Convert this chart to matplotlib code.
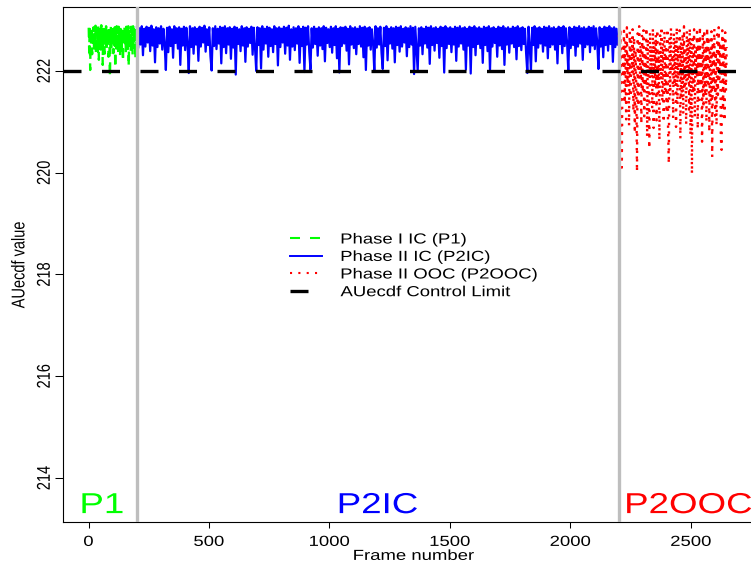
import numpy as np
import matplotlib
matplotlib.use("Agg")
import matplotlib.pyplot as plt
import matplotlib.patheffects as pe
from matplotlib.transforms import Affine2D
from matplotlib.lines import Line2D

# ---------------- data ----------------
p1_x = list(range(1, 201, 2))
p1_y = [222.85, 222.36, 222.88, 222.02, 222.83, 222.48, 222.87, 222.33, 222.79, 222.55,
        222.86, 222.41, 222.81, 222.62, 222.89, 222.31, 222.84, 222.50, 222.77, 222.38,
        222.88, 222.22, 222.82, 222.56, 222.86, 222.42, 222.90, 222.49, 222.80, 222.12,
        222.85, 222.45, 222.87, 222.34, 222.83, 222.58, 222.88, 222.39, 222.78, 222.52,
        222.86, 222.28, 222.84, 222.48, 221.88, 222.65, 222.87, 222.41, 222.82, 222.57,
        222.89, 222.35, 222.81, 222.51, 222.86, 222.05, 222.84, 222.44, 222.88, 222.60,
        222.79, 222.37, 222.87, 222.50, 222.83, 222.30, 222.89, 222.55, 222.80, 222.40,
        222.86, 222.18, 222.84, 222.47, 222.88, 222.61, 222.81, 222.36, 222.87, 222.52,
        222.83, 222.43, 222.88, 222.08, 222.85, 222.49, 222.79, 222.38, 222.87, 222.56,
        222.84, 222.32, 222.88, 222.46, 222.82, 222.59, 222.86, 222.22, 222.80, 222.51]

p2ic_x = list(range(201, 2201, 5))
p2ic_y = [
    222.86, 222.45, 222.84, 222.52, 222.88, 222.31, 222.83, 222.48, 222.87, 222.56, 222.85, 222.39, 222.89, 222.50, 222.82, 222.17, 222.86, 222.47, 222.84, 222.54,
    222.88, 222.42, 222.83, 222.51, 222.02, 222.85, 222.37, 222.87, 222.49, 222.82, 222.26, 222.88, 222.55, 222.84, 222.44, 222.86, 222.12, 222.83, 222.50, 222.87,
    222.41, 222.85, 222.53, 221.96, 222.88, 222.47, 222.84, 222.34, 222.86, 222.52, 222.83, 222.20, 222.87, 222.48, 222.85, 222.56, 222.89, 222.38, 222.82, 222.51,
    222.86, 222.29, 222.01, 222.84, 222.49, 222.88, 222.43, 222.83, 222.54, 222.87, 222.15, 222.85, 222.47, 222.88, 222.35, 222.84, 222.52, 222.86, 222.24, 222.83,
    222.46, 222.87, 221.93, 222.85, 222.53, 222.82, 222.39, 222.88, 222.50, 222.84, 222.18, 222.86, 222.48, 222.83, 222.55, 222.87, 222.32, 222.85, 222.45, 222.00,
    222.86, 222.51, 222.84, 222.05, 222.88, 222.42, 222.83, 222.54, 222.87, 222.28, 222.85, 222.49, 222.82, 222.37, 222.88, 222.53, 222.84, 222.11, 222.86, 222.47,
    222.83, 222.56, 222.87, 222.34, 222.85, 222.50, 222.89, 222.22, 222.82, 222.48, 222.86, 222.41, 222.84, 222.54, 222.88, 222.16, 222.83, 222.49, 222.87, 221.98,
    222.85, 222.52, 222.88, 222.38, 222.03, 222.84, 222.46, 222.87, 222.53, 222.83, 222.30, 222.86, 222.50, 222.84, 222.43, 222.88, 222.19, 222.85, 222.55, 222.82,
    222.47, 222.87, 222.36, 222.84, 222.51, 222.88, 222.25, 222.83, 221.97, 222.86, 222.49, 222.85, 222.54, 222.87, 222.40, 222.83, 222.13, 222.88, 222.52, 222.84,
    222.45, 222.86, 222.33, 222.83, 222.53, 222.88, 222.48, 222.85, 222.27, 222.87, 222.02, 222.84, 222.50, 222.86, 222.42, 222.82, 222.55, 221.99, 222.88, 222.46,
    222.84, 222.52, 222.87, 222.35, 222.04, 222.85, 222.49, 222.88, 222.21, 222.83, 222.54, 222.86, 222.44, 222.84, 222.17, 222.87, 222.51, 222.85, 222.38, 222.88,
    222.48, 222.83, 222.56, 222.86, 222.29, 222.84, 222.47, 222.88, 222.52, 222.85, 221.94, 222.87, 222.43, 222.00, 222.84, 222.50, 222.86, 222.33, 222.83, 222.54,
    222.87, 222.46, 222.85, 222.14, 222.88, 222.51, 222.84, 222.40, 222.86, 222.55, 222.83, 222.26, 222.87, 222.49, 222.85, 221.97, 222.88, 222.45, 222.84, 222.53,
    222.86, 222.37, 222.83, 222.52, 222.87, 222.20, 222.85, 222.48, 222.88, 222.54, 222.84, 222.42, 222.86, 222.03, 222.83, 222.50, 222.87, 221.95, 222.85, 222.47,
    222.88, 222.31, 222.84, 222.53, 222.86, 222.45, 222.83, 222.16, 222.87, 222.51, 222.85, 222.39, 222.88, 222.01, 222.84, 222.48, 222.86, 222.55, 222.83, 222.28,
    222.87, 222.50, 222.85, 222.43, 222.88, 222.12, 222.84, 222.52, 222.86, 222.36, 222.83, 222.54, 222.87, 222.47, 222.85, 222.23, 222.88, 222.49, 222.84, 222.41,
    222.86, 222.53, 222.83, 222.34, 221.96, 222.87, 222.48, 222.02, 222.85, 222.51, 222.88, 222.19, 222.84, 222.46, 222.86, 222.54, 222.83, 222.38, 222.87, 222.50,
    222.85, 222.25, 222.88, 222.47, 222.84, 222.52, 222.86, 222.42, 222.83, 222.15, 222.87, 222.53, 222.85, 222.35, 222.88, 222.49, 222.84, 222.55, 221.98, 222.86,
    222.45, 222.83, 222.51, 222.87, 222.30, 222.85, 222.48, 222.88, 222.54, 222.84, 222.22, 222.86, 222.47, 222.83, 222.52, 222.87, 222.37, 222.85, 222.50, 222.88,
    222.43, 222.84, 222.56, 222.04, 222.86, 222.48, 222.83, 222.27, 222.87, 222.51, 222.85, 222.40, 222.88, 222.53, 222.84, 222.18, 222.86, 222.47, 222.83, 222.52]

p2ooc_x = list(range(2201, 2650, 3))
p2ooc_y = [
    222.71, 221.62, 222.83, 221.14, 220.10, 222.45, 221.88, 222.79, 221.37, 222.60, 221.05, 222.86, 221.73, 222.34, 220.92,
    222.77, 221.49, 222.58, 221.95, 222.82, 221.21, 222.66, 220.78, 222.41, 221.66, 220.02, 222.74, 221.30, 222.88, 221.84,
    222.52, 220.96, 222.69, 221.58, 222.80, 221.11, 222.37, 221.79, 222.85, 220.71, 222.63, 221.45, 220.48, 222.76, 221.92,
    222.47, 221.26, 222.84, 220.88, 222.59, 221.69, 222.72, 221.03, 222.81, 221.54, 222.39, 220.64, 222.70, 221.83, 222.87,
    221.40, 222.55, 220.99, 222.78, 221.61, 222.43, 221.18, 222.83, 220.83, 220.18, 222.67, 221.51, 222.85, 221.97, 222.33,
    221.07, 222.75, 221.72, 222.61, 220.90, 222.86, 221.34, 222.49, 221.86, 222.80, 220.67, 222.57, 221.47, 222.73, 221.15,
    222.88, 221.64, 222.40, 220.95, 222.79, 221.80, 222.64, 221.24, 222.84, 220.74, 222.53, 219.98, 222.70, 221.56, 222.82,
    221.09, 222.46, 221.91, 222.77, 220.86, 222.62, 221.43, 222.87, 221.70, 222.35, 220.61, 222.74, 221.28, 222.81, 221.59,
    222.50, 221.00, 222.85, 221.76, 222.68, 220.80, 222.44, 221.39, 222.78, 220.31, 222.58, 221.67, 222.83, 221.12, 222.38,
    220.93, 222.72, 221.53, 222.86, 221.85, 222.56, 220.70, 220.45, 222.80, 221.32, 222.64, 221.02, 222.76, 221.61, 222.47]

control_limit = 222.0
phase_bounds = [200, 2200]
phase_labels = ["P1", "P2IC", "P2OOC"]
phase_label_x = [56, 1200, 2490]
legend_labels = ["Phase I IC (P1)", "Phase II IC (P2IC)", "Phase II OOC (P2OOC)", "AUecdf Control Limit"]
x_ticks = [0, 500, 1000, 1500, 2000, 2500]
y_ticks = [214, 216, 218, 220, 222]

GREEN, BLUE, RED, GRAY = "#00FF00", "#0000FF", "#FF0000", "#BEBEBE"

# ------------- horizontal stretch of glyphs (reference was widened) -------------
SX = 1.27


class HStretch(pe.AbstractPathEffect):
    def __init__(self, sx=SX, anchor="center"):
        super().__init__()
        self.sx = sx
        self.anchor = anchor

    def draw_path(self, renderer, gc, tpath, affine, rgbFace=None):
        ext = tpath.get_extents(affine)
        x0 = ext.x0 if self.anchor == "left" else 0.5 * (ext.x0 + ext.x1)
        t = affine + Affine2D().translate(-x0, 0).scale(self.sx, 1.0).translate(x0, 0)
        renderer.draw_path(gc, tpath, t, rgbFace)


plt.rcParams["font.family"] = ["Liberation Sans", "DejaVu Sans"]

W, H = 751, 562
fig = plt.figure(figsize=(W / 100, H / 100), dpi=100)
ax = fig.add_axes([62.5 / W, (H - 521.7) / H, 702.7 / W, 514.4 / H])

ax.plot(p1_x, p1_y, color=GREEN, lw=1.7, linestyle=(0, (4, 3.5)))
ax.plot(p2ic_x, p2ic_y, color=BLUE, lw=1.6, linestyle="-")
ax.plot(p2ooc_x, p2ooc_y, color=RED, lw=1.7, linestyle=(0, (1, 2.6)))
for b in phase_bounds:
    ax.axvline(b, color=GRAY, lw=2.4, zorder=3)
ax.axhline(control_limit, color="black", lw=2.4, linestyle=(0, (5.4, 6.15)), zorder=4)

colors = [GREEN, BLUE, RED]
for lab, lx, c in zip(phase_labels, phase_label_x, colors):
    t = ax.text(lx, 213.31, lab, ha="center", va="baseline", fontsize=20.8, color=c)
    t.set_path_effects([HStretch()])

ax.set_xlim(-107.9, 2808)
ax.set_ylim(213.141, 223.252)
for s in ax.spines.values():
    s.set_linewidth(0.8)

ax.set_xticks(x_ticks)
ax.set_xticklabels([str(v) for v in x_ticks], fontsize=10.5)
ax.set_yticks(y_ticks)
ax.set_yticklabels([str(v) for v in y_ticks], fontsize=10.5, rotation=90, va="center")
ax.tick_params(axis="x", length=4.5, width=0.75, pad=5)
ax.tick_params(axis="y", length=5.5, width=0.75, pad=2.5)
for lbl in ax.get_xticklabels() + ax.get_yticklabels():
    lbl.set_path_effects([HStretch()])

ax.set_xlabel("Frame number", fontsize=10.5, labelpad=0)
ax.xaxis.label.set_path_effects([HStretch()])
ax.set_ylabel("AUecdf value", fontsize=10.5)
ax.yaxis.set_label_coords((26 - 62.5) / 702.7, 0.5)
ax.yaxis.label.set_path_effects([HStretch()])

# ---------------- legend (drawn in figure pixels) ----------------
rows_px = [238.3, 255.7, 273.3, 291.0]
hx0, hx1 = 290, 322
styles = [dict(color=GREEN, lw=1.5, linestyle=(0, (4.8, 4.8))),
          dict(color=BLUE, lw=1.4, linestyle="-"),
          dict(color=RED, lw=1.5, linestyle=(0, (1, 3))),
          dict(color="black", lw=2.4, linestyle=(0, (5.4, 6.15)))]
for ry, st, lab in zip(rows_px, styles, legend_labels):
    fy = 1 - ry / H
    fig.add_artist(Line2D([hx0 / W, hx1 / W], [fy, fy], transform=fig.transFigure, **st))
    t = fig.text(340.5 / W, 1 - (ry + 5.2) / H, lab, ha="left", va="baseline", fontsize=10.5)
    t.set_path_effects([HStretch(anchor="left")])

fig.savefig("out.png", dpi=100)
